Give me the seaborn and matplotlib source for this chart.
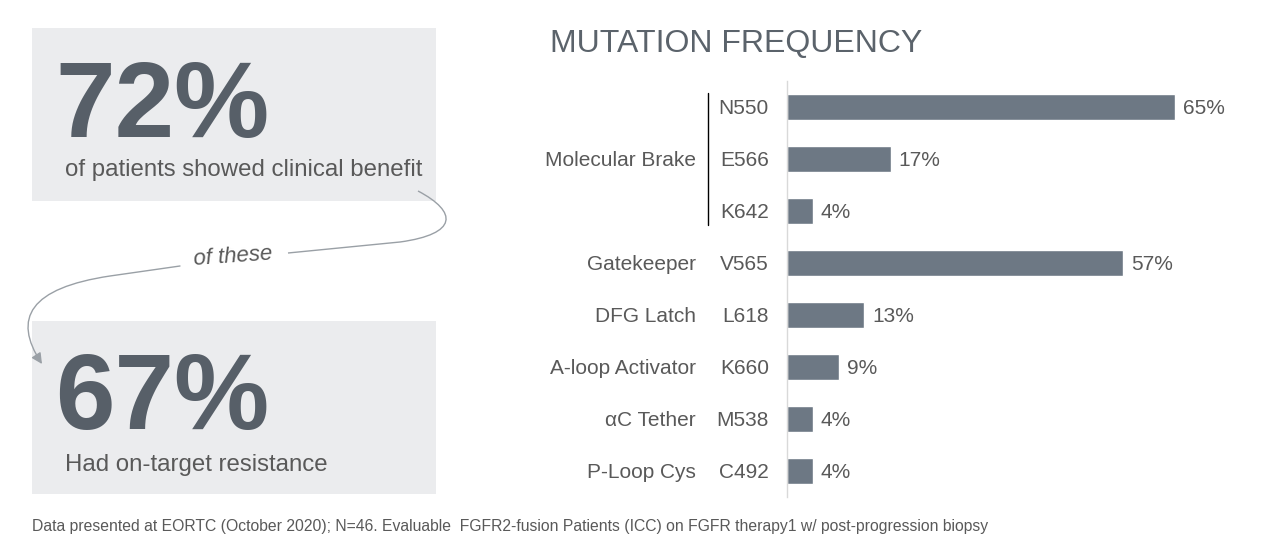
import matplotlib
matplotlib.use("Agg")
import matplotlib.pyplot as plt
import matplotlib.transforms as mtransforms
from matplotlib.path import Path
from matplotlib.patches import Rectangle, PathPatch, FancyArrowPatch
import seaborn as sns
import pandas as pd

# ---------------- data ----------------
mutations = ["N550", "E566", "K642", "V565", "L618", "K660", "M538", "C492"]
groups = ["Molecular Brake", "Molecular Brake", "Molecular Brake", "Gatekeeper",
          "DFG Latch", "A-loop Activator", "\u03b1C Tether", "P-Loop Cys"]
frequency = [65.2, 17.4, 4.3, 56.5, 13.0, 8.7, 4.3, 4.3]
freq_labels = ["65%", "17%", "4%", "57%", "13%", "9%", "4%", "4%"]
benefit_pct = "72%"
benefit_text = "of patients showed clinical benefit"
resist_pct = "67%"
resist_text = "Had on-target resistance"
title = "MUTATION FREQUENCY"
footnote = ("Data presented at EORTC (October 2020); N=46. Evaluable  FGFR2-fusion "
            "Patients (ICC) on FGFR therapy1 w/ post-progression biopsy")

df = pd.DataFrame({"mutation": mutations, "group": groups, "freq": frequency})

sns.set_theme(style="white")
plt.rcParams["font.family"] = ["Liberation Sans", "DejaVu Sans"]

W, H = 1271, 549
fig = plt.figure(figsize=(W / 100, H / 100), dpi=100)

TXT = "#595959"
DARK = "#575f68"
BAR = "#6d7884"
BOX = "#ebecee"

# overlay in pixel coordinates
ov = fig.add_axes([0, 0, 1, 1])
ov.set_xlim(0, W)
ov.set_ylim(H, 0)
ov.axis("off")

# boxes
ov.add_patch(Rectangle((32, 28), 404, 173, color=BOX, lw=0, zorder=0))
ov.add_patch(Rectangle((32, 321), 404, 173, color=BOX, lw=0, zorder=0))

ov.text(55, 108.5, benefit_pct, fontsize=77, fontweight="bold", color=DARK,
        ha="left", va="center")
ov.text(65, 170, benefit_text, fontsize=17.3, color=TXT, ha="left", va="center")
ov.text(55, 400.5, resist_pct, fontsize=77, fontweight="bold", color=DARK,
        ha="left", va="center")
ov.text(65, 465, resist_text, fontsize=17.3, color=TXT, ha="left", va="center")

# connecting curve
LC = "#9aa0a6"
p1 = Path([(418, 191), (458, 212), (458, 234), (400, 242), (288, 253)],
          [Path.MOVETO, Path.CURVE4, Path.CURVE4, Path.CURVE4, Path.LINETO])
ov.add_patch(PathPatch(p1, fill=False, color=LC, lw=1))
p2 = Path([(180, 266), (110, 276), (30, 288), (12, 318), (42, 364)],
          [Path.MOVETO, Path.LINETO, Path.CURVE4, Path.CURVE4, Path.CURVE4])
ov.add_patch(FancyArrowPatch(path=p2, arrowstyle="-|>", mutation_scale=16,
                             color=LC, lw=1, shrinkA=0, shrinkB=0))
ov.text(233, 257, "of these", fontsize=16, style="italic", color=TXT,
        ha="center", va="center", rotation=4)

ov.text(550, 44, title, fontsize=23, color="#5b636b", ha="left", va="center")
ov.text(32, 526, footnote, fontsize=11.3, color=TXT, ha="left", va="center")

# bar axes
ax_left, ax_right, ax_top, ax_bot = 787, 1260, 81, 497
ax = fig.add_axes([ax_left / W, 1 - ax_bot / H, (ax_right - ax_left) / W,
                   (ax_bot - ax_top) / H])
sns.barplot(data=df, y="mutation", x="freq", orient="h", color=BAR,
            width=0.5, ax=ax, saturation=1)
px_per_pct = 5.95
ax.set_xlim(0, (ax_right - ax_left) / px_per_pct)
ax.set_ylim(len(mutations) - 0.5, -0.5)
ax.set_xlabel("")
ax.set_ylabel("")
ax.set_xticks([])
for s in ["top", "right", "bottom"]:
    ax.spines[s].set_visible(False)
ax.spines["left"].set_color("#d9d9d9")
ax.spines["left"].set_linewidth(1)
ax.tick_params(axis="y", length=0, pad=13, labelsize=15, labelcolor=TXT)
ax.patch.set_alpha(0)

for i, (v, lab) in enumerate(zip(frequency, freq_labels)):
    ax.annotate(lab, (v, i), xytext=(6, 0), textcoords="offset points",
                fontsize=15, color=TXT, ha="left", va="center_baseline")

# group labels
bt = mtransforms.blended_transform_factory(ov.transData, ax.transData)
seen = {}
for i, g in enumerate(groups):
    seen.setdefault(g, []).append(i)
for g, idx in seen.items():
    yc = sum(idx) / len(idx)
    ax.text(696, yc, g, transform=bt, fontsize=15, color=TXT, ha="right",
            va="center_baseline")
    if len(idx) > 1:
        ax.plot([708, 708], [idx[0] - 0.27, idx[-1] + 0.27], transform=bt,
                color="black", lw=1, clip_on=False)

fig.savefig("out.png", dpi=100)
